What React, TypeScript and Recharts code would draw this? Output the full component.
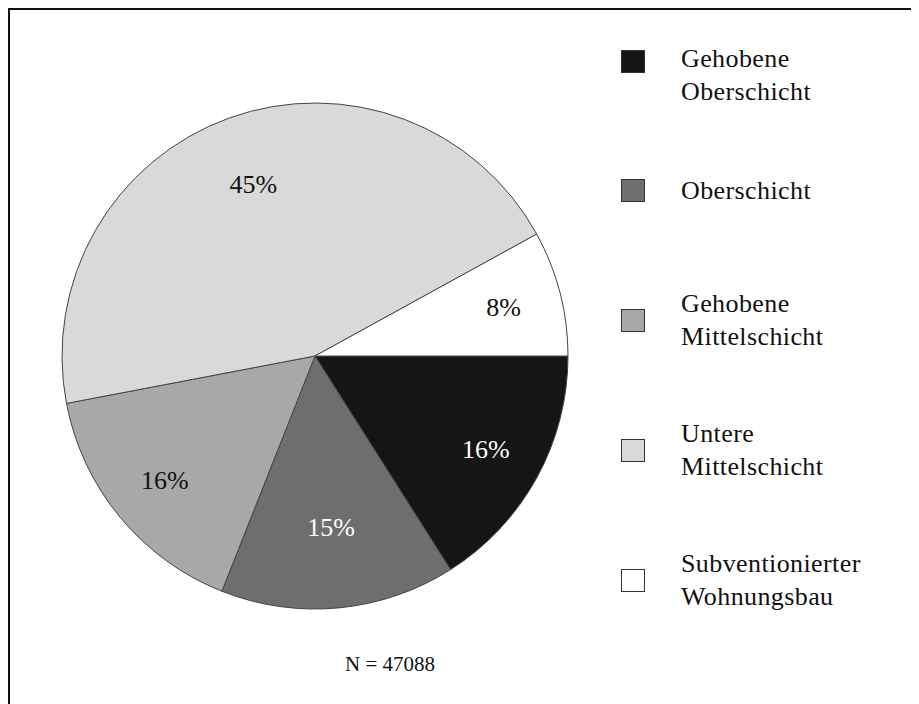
import { PieChart, Pie, Cell } from "recharts";

const categories = [
  "Gehobene Oberschicht",
  "Oberschicht",
  "Gehobene Mittelschicht",
  "Untere Mittelschicht",
  "Subventionierter Wohnungsbau"
];
const shares = [16, 15, 16, 45, 8];
const colors = ["#151515", "#6e6e6e", "#a8a8a8", "#d9d9d9", "#ffffff"];
const labelColors = ["#ffffff", "#ffffff", "#111111", "#111111", "#111111"];
const sampleSize = "N = 47088";

const data = categories.map((name, i) => ({ name, value: shares[i] }));

const FONT = "Liberation Serif, serif";
const RAD = Math.PI / 180;

const renderLabel = (props: any) => {
  const { cx, cy, midAngle, outerRadius, index, value } = props;
  // the big slice and the narrow one sit a bit closer to the centre
  const f = index === 1 ? 0.68 : index === 3 ? 0.72 : 0.77;
  const r = outerRadius * f;
  const x = cx + r * Math.cos(-midAngle * RAD);
  const y = cy + r * Math.sin(-midAngle * RAD);
  return (
    <text
      x={x}
      y={y}
      fill={labelColors[index]}
      textAnchor="middle"
      dominantBaseline="central"
      style={{ fontFamily: FONT, fontSize: 26 }}
    >
      {value}%
    </text>
  );
};

// text centre of each legend entry, chart coordinates
const legendCenters = [65, 180, 310, 440, 570];

export default function App() {
  return (
    <div
      style={{
        position: "relative",
        width: 911,
        height: 696,
        borderTop: "2px solid #111",
        borderLeft: "2px solid #111",
        boxSizing: "border-box",
        background: "#fff",
        fontFamily: FONT,
        color: "#111"
      }}
    >
      <PieChart width={909} height={694} margin={{ top: 0, right: 0, bottom: 0, left: 0 }}>
        <Pie
          data={data}
          dataKey="value"
          nameKey="name"
          cx={305}
          cy={346}
          outerRadius={253}
          startAngle={0}
          endAngle={-360}
          stroke="#444"
          strokeWidth={1}
          labelLine={false}
          label={renderLabel}
          isAnimationActive={false}
        >
          {data.map((d, i) => (
            <Cell key={d.name} fill={colors[i]} />
          ))}
        </Pie>
      </PieChart>

      {categories.map((name, i) => {
        const lines = name.split(" ");
        const h = lines.length * 33;
        const top = legendCenters[i] - h / 2;
        return (
          <div
            key={name}
            style={{
              position: "absolute",
              left: 611,
              top,
              height: h,
              display: "flex",
              alignItems: i === 0 ? "flex-start" : "center"
            }}
          >
            <div
              style={{
                width: 24,
                height: 23,
                marginTop: i === 0 ? 8 : 0,
                background: colors[i],
                border: "1px solid #333",
                boxSizing: "border-box"
              }}
            />
            <div
              style={{
                marginLeft: 36,
                fontFamily: FONT,
                fontSize: 26,
                lineHeight: "33px",
                letterSpacing: 0.4
              }}
            >
              {lines.map((l) => (
                <div key={l}>{l}</div>
              ))}
            </div>
          </div>
        );
      })}

      <div
        style={{
          position: "absolute",
          left: 280,
          width: 200,
          top: 641,
          textAlign: "center",
          fontFamily: FONT,
          fontSize: 21,
          lineHeight: "26px"
        }}
      >
        {sampleSize}
      </div>
    </div>
  );
}
